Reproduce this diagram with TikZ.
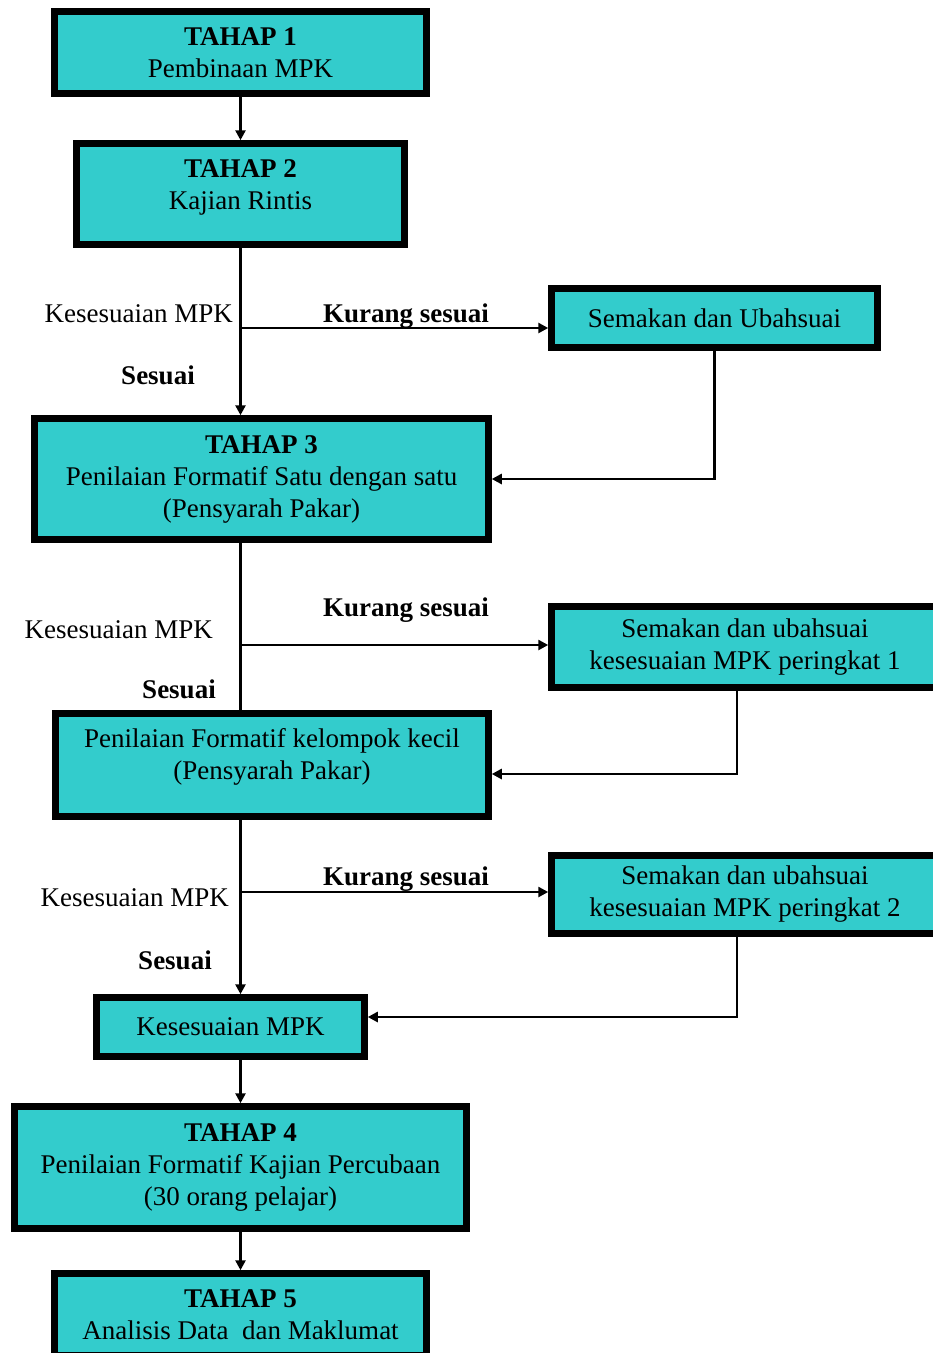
\documentclass[tikz,border=0pt]{standalone}
\usepackage{fontspec}
\setmainfont{Liberation Serif}
\usetikzlibrary{arrows.meta,calc}
\definecolor{boxcyan}{RGB}{51,204,204}
\begin{document}
\begin{tikzpicture}[x=1pt,y=-1pt,
 box/.style={draw=black,line width=6.5pt,fill=boxcyan,inner sep=0pt,align=center,font=\fontsize{27}{32}\selectfont},
 boxtext/.style={inner sep=0pt,align=center,font=\fontsize{27}{32}\selectfont},
 conn/.style={line width=2.6pt},
 arr/.style={conn,-{Triangle[length=10pt,width=10pt]}},
 lbl/.style={inner sep=0pt,font=\fontsize{27}{32}\selectfont},
 blbl/.style={inner sep=0pt,anchor=base,font=\fontsize{27}{32}\selectfont\bfseries}]
\useasboundingbox (0,0) rectangle (933,1353);
\fill[white] (0,0) rectangle (933,1353);
% boxes
\node[box,minimum width=372pt,minimum height=82pt] (b1) at (240.5,52.5) {\textbf{TAHAP 1}\\Pembinaan MPK};
\node[box,minimum width=328pt,minimum height=101pt] (b2) at (240.5,194) {};
\node[boxtext] (b2t) at (240.5,187) {\textbf{TAHAP 2}\\Kajian Rintis};
\node[box,minimum width=454pt,minimum height=121pt] (b3) at (261.5,479) {\textbf{TAHAP 3}\\Penilaian Formatif Satu dengan satu\\(Pensyarah Pakar)};
\node[box,minimum width=326pt,minimum height=59pt] (s1) at (714.5,318) {Semakan dan Ubahsuai};
\node[box,minimum width=387pt,minimum height=81pt] (r2) at (745,647) {Semakan dan ubahsuai\\kesesuaian MPK peringkat 1};
\node[box,minimum width=433pt,minimum height=103pt] (b4) at (272,765) {};
\node[boxtext] (b4t) at (272,757) {Penilaian Formatif kelompok kecil\\(Pensyarah Pakar)};
\node[box,minimum width=387pt,minimum height=78pt] (r3) at (745,894.5) {Semakan dan ubahsuai\\kesesuaian MPK peringkat 2};
\node[box,minimum width=268pt,minimum height=59pt] (b5) at (230.5,1027) {Kesesuaian MPK};
\node[box,minimum width=452pt,minimum height=122pt] (b6) at (240.5,1167.5) {\textbf{TAHAP 4}\\Penilaian Formatif Kajian Percubaan\\(30 orang pelajar)};
\node[box,minimum width=372pt,minimum height=82pt] (b7) at (240.5,1314.5) {\textbf{TAHAP 5}\\Analisis Data\ \ dan Maklumat};
% spine and junctions
\coordinate (spine) at (240.5,0);
\coordinate (j1) at (240.5,328);
\coordinate (j2) at (240.5,645);
\coordinate (j3) at (240.5,892);
% connectors
\draw[arr] (b1.south) -- (b2.north);
\draw[arr] (b2.south) -- (b2.south |- b3.north);
\draw[arr] (j1) -- (j1 -| s1.west);
\draw[arr] (s1.south) |- (b3.east);
\draw[conn] (b3.south -| spine) -- (b4.north -| spine);
\draw[arr] (j2) -- (j2 -| r2.west);
\draw[arr] ([xshift=-8pt]r2.south) |- ([yshift=-9pt]b4.east);
\draw[arr] (b4.south -| spine) -- (b5.north -| spine);
\draw[arr] (j3) -- (j3 -| r3.west);
\draw[arr] ([xshift=-8pt]r3.south) |- ([yshift=10pt]b5.east);
\draw[arr] (b5.south -| spine) -- (b6.north -| spine);
\draw[arr] (b6.south) -- (b7.north);
% labels
\node[lbl,anchor=base east] (k1) at (233,322) {Kesesuaian MPK};
\node[blbl] (ks1) at (406,322) {Kurang sesuai};
\node[blbl] (se1) at (158,384) {Sesuai};
\node[lbl,anchor=base east] (k2) at (213,638) {Kesesuaian MPK};
\node[blbl] (ks2) at (406,616) {Kurang sesuai};
\node[blbl] (se2) at (179,698) {Sesuai};
\node[lbl,anchor=base east] (k3) at (229,906) {Kesesuaian MPK};
\node[blbl] (ks3) at (406,885) {Kurang sesuai};
\node[blbl] (se3) at (175,969) {Sesuai};
\end{tikzpicture}
\end{document}
